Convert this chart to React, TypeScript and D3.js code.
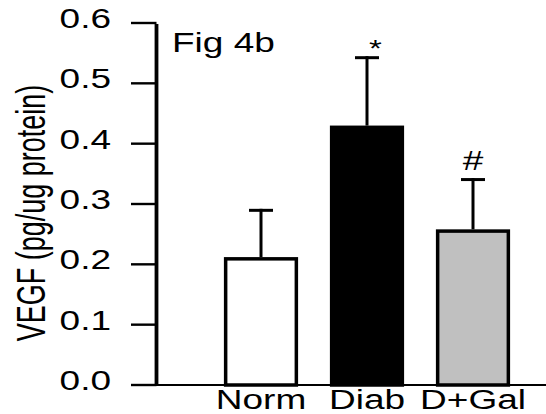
import React from "react";
import * as d3 from "d3";

const categories = ["Norm", "Diab", "D+Gal"];
const means = [0.212, 0.43, 0.258];
const errors = [0.08, 0.115, 0.085];
const fills = ["#ffffff", "#000000", "#c0c0c0"];
const marks = ["", "*", "#"];
const yTicks = [0, 0.1, 0.2, 0.3, 0.4, 0.5, 0.6];
const yLabel = "VEGF (pg/ug protein)";
const figLabel = "Fig 4b";

const W = 546;
const H = 414;
const FONT = "'Liberation Sans', Arial, sans-serif";
const FS = 27;
const SX = 1.37;

export default function App() {
  const y = d3.scaleLinear().domain([0, 0.6]).range([385, 23]);
  const x = d3
    .scaleBand<string>()
    .domain(categories)
    .range([208, 526])
    .paddingInner(0.3)
    .paddingOuter(0.15);
  const fmt = d3.format(".1f");
  const axisX = 156.5;
  const sw = 3.5;
  const bw = x.bandwidth();

  return (
    <svg
      width={W}
      height={H}
      style={{ position: "absolute", left: 0, top: 0, background: "#fff" }}
      fontFamily={FONT}
    >
      <rect x={0} y={0} width={W} height={H} fill="#fff" />
      {categories.map((c, i) => {
        const x0 = x(c)!;
        const cx = x0 + bw / 2;
        const top = y(means[i]);
        const errTop = y(means[i] + errors[i]);
        const isStar = marks[i] === "*";
        return (
          <g key={c}>
            <line x1={cx} x2={cx} y1={top} y2={errTop} stroke="#000" strokeWidth={3} />
            <line x1={cx - 12} x2={cx + 12} y1={errTop + 1.5} y2={errTop + 1.5} stroke="#000" strokeWidth={3} />
            <rect
              x={x0 + sw / 2}
              y={top + sw / 2}
              width={bw - sw}
              height={y(0) - top - sw / 2}
              fill={fills[i]}
              stroke="#000"
              strokeWidth={sw}
            />
            {marks[i] && (
              <text
                transform={`translate(${cx + (isStar ? 8.5 : 0)},${isStar ? errTop + 1 : errTop - 8}) scale(${SX},1)`}
                textAnchor="middle"
                fontSize={isStar ? 24 : FS}
                fill="#000"
              >
                {marks[i]}
              </text>
            )}
            <text
              transform={`translate(${cx},409) scale(${SX},1)`}
              textAnchor="middle"
              fontSize={FS}
              fill="#000"
            >
              {c}
            </text>
          </g>
        );
      })}
      <line x1={131} x2={W} y1={y(0)} y2={y(0)} stroke="#000" strokeWidth={2.2} />
      <line x1={axisX} x2={axisX} y1={y(0.6) + 1} y2={y(0)} stroke="#000" strokeWidth={3.8} />
      {yTicks.map((t) => (
        <g key={t}>
          <line x1={131} x2={axisX} y1={y(t)} y2={y(t)} stroke="#000" strokeWidth={2.4} />
          <text
            transform={`translate(111,${y(t) + 5}) scale(${SX},1)`}
            textAnchor="end"
            fontSize={FS}
            fill="#000"
          >
            {fmt(t)}
          </text>
        </g>
      ))}
      <text
        transform={`translate(45,213) scale(1.5,1) rotate(-90)`}
        textAnchor="middle"
        fontSize={FS}
        fill="#000"
      >
        {yLabel}
      </text>
      <text transform={`translate(172,52) scale(${SX},1)`} fontSize={FS} fill="#000">
        {figLabel}
      </text>
    </svg>
  );
}
